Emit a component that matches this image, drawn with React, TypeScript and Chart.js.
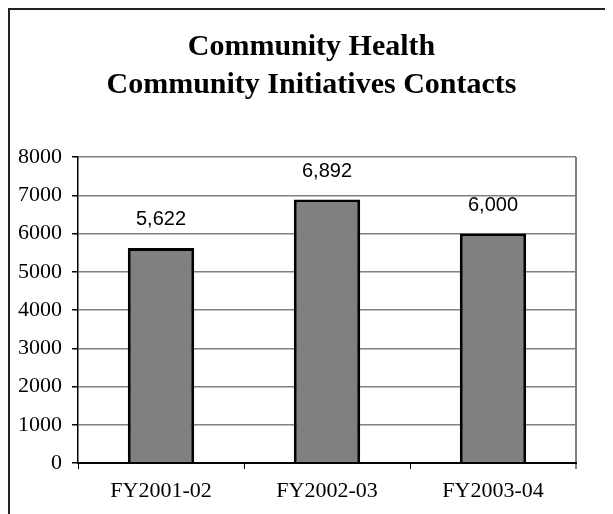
import React, { useEffect, useRef } from "react";
import { Chart, registerables } from "chart.js";

Chart.register(...registerables);

// Chart data
const categories = ["FY2001-02", "FY2002-03", "FY2003-04"];
const contacts = [5622, 6892, 6000];
const titleLines = ["Community Health", "Community Initiatives Contacts"];
const yMin = 0;
const yMax = 8000;
const yStep = 1000;

const SERIF = "'Liberation Serif', 'Times New Roman', serif";
const SANS = "'Liberation Sans', Arial, sans-serif";
const GRID = "#808080";
const INK = "#000000";

// Two-line bold heading centred across the canvas
const headingPlugin = {
  id: "heading",
  afterDraw(chart: any) {
    const { ctx, width } = chart;
    ctx.save();
    ctx.fillStyle = INK;
    ctx.font = `bold 30px ${SERIF}`;
    ctx.textAlign = "center";
    ctx.textBaseline = "middle";
    const firstY = 37;
    const lineGap = 38;
    titleLines.forEach((line, i) => {
      ctx.fillText(line, width / 2, firstY + i * lineGap);
    });
    ctx.restore();
  },
};

// Value labels above each bar
const valueLabelPlugin = {
  id: "valueLabels",
  afterDatasetsDraw(chart: any) {
    const { ctx } = chart;
    const meta = chart.getDatasetMeta(0);
    ctx.save();
    ctx.fillStyle = INK;
    ctx.font = `20px ${SANS}`;
    ctx.textAlign = "center";
    ctx.textBaseline = "middle";
    meta.data.forEach((bar: any, i: number) => {
      const v = chart.data.datasets[0].data[i] as number;
      ctx.fillText(v.toLocaleString("en-US"), bar.x, bar.y - 28);
    });
    ctx.restore();
  },
};

// Grey right edge of the plot area
const plotFramePlugin = {
  id: "plotFrame",
  beforeDatasetsDraw(chart: any) {
    const { ctx, chartArea } = chart;
    ctx.save();
    ctx.strokeStyle = GRID;
    ctx.lineWidth = 2;
    ctx.beginPath();
    ctx.moveTo(chartArea.right, chartArea.top);
    ctx.lineTo(chartArea.right, chartArea.bottom + 6);
    ctx.stroke();
    ctx.restore();
  },
};

export default function App() {
  const canvasRef = useRef<HTMLCanvasElement | null>(null);

  useEffect(() => {
    const canvas = canvasRef.current;
    if (!canvas) return;
    const chart = new Chart(canvas, {
      type: "bar",
      data: {
        labels: categories,
        datasets: [
          {
            data: contacts,
            backgroundColor: "#808080",
            borderColor: INK,
            borderWidth: 3,
            borderSkipped: "start",
            categoryPercentage: 1,
            barPercentage: 0.4,
          },
        ],
      },
      options: {
        responsive: false,
        animation: false,
        layout: { padding: { top: 147, right: 37, left: 0, bottom: 0 } },
        plugins: {
          legend: { display: false },
          title: { display: false },
          tooltip: { enabled: false },
        },
        scales: {
          x: {
            offset: true,
            grid: {
              offset: true,
              drawOnChartArea: false,
              drawTicks: true,
              tickLength: 6,
              tickColor: INK,
              color: INK,
            },
            border: { color: INK, width: 2, z: 1 },
            ticks: {
              color: INK,
              padding: 9,
              font: { family: SERIF, size: 22 },
            },
            afterFit(scale: any) {
              scale.height = 51;
            },
          },
          y: {
            min: yMin,
            max: yMax,
            ticks: {
              stepSize: yStep,
              color: INK,
              padding: 10,
              font: { family: SERIF, size: 22 },
              callback: (value: any) => String(value),
            },
            grid: {
              color: GRID,
              lineWidth: 1.5,
              tickColor: INK,
              tickLength: 6,
            },
            border: { color: INK, width: 1.5 },
            afterFit(scale: any) {
              scale.width = 68;
            },
          },
        },
      },
      plugins: [plotFramePlugin, valueLabelPlugin, headingPlugin],
    });
    return () => chart.destroy();
  }, []);

  return (
    <div
      style={{
        width: 603,
        height: 504,
        borderLeft: "2px solid #222",
        borderTop: "2px solid #222",
        background: "#fff",
      }}
    >
      <canvas
        ref={canvasRef}
        width={603}
        height={504}
        style={{ display: "block", width: 603, height: 504 }}
      />
    </div>
  );
}
